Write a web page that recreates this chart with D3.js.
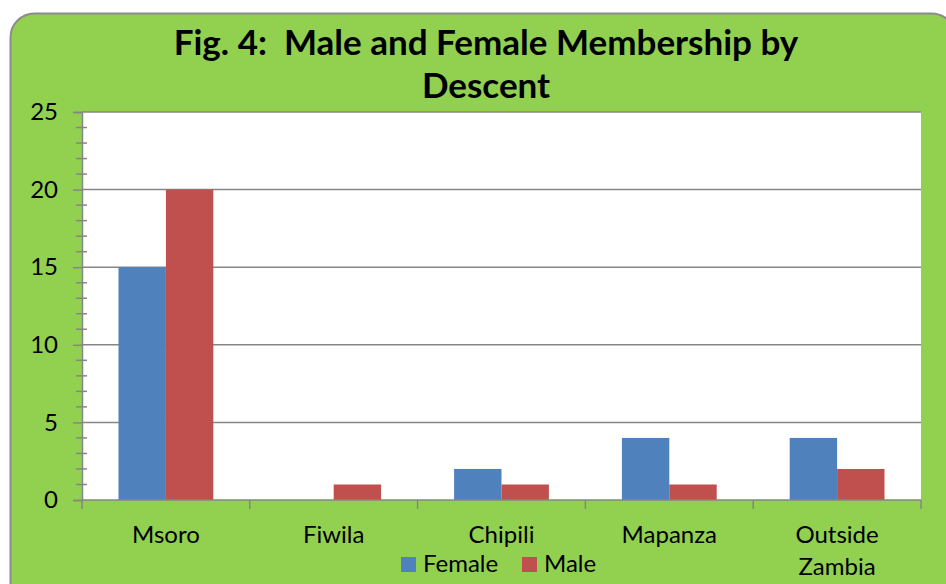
<!DOCTYPE html>
<html>
<head>
<meta charset="utf-8">
<script src="https://d3js.org/d3.v7.min.js"></script>
<style>
  body { margin: 0; background: #fff; }
  text { font-family: Lato, "Open Sans", sans-serif; fill: #000; }
</style>
</head>
<body>
<div id="chart"></div>
<script>
const categories = ["Msoro", "Fiwila", "Chipili", "Mapanza", "Outside Zambia"];
const seriesNames = ["Female", "Male"];
const female = [15, 0, 2, 4, 4];
const male = [20, 1, 1, 1, 2];
const yTicks = [0, 5, 10, 15, 20, 25];
const colors = { Female: "#4f81bd", Male: "#c0504d" };

const width = 946, height = 584;
const plot = { left: 82, right: 921, top: 112, bottom: 500 };

const svg = d3.select("#chart").append("svg")
  .attr("width", width)
  .attr("height", height);

// green chart area with rounded corners
svg.append("rect")
  .attr("x", 10.5).attr("y", 13.5)
  .attr("width", 945).attr("height", 600)
  .attr("rx", 24).attr("ry", 24)
  .attr("fill", "#92d050")
  .attr("stroke", "#8c8c8c")
  .attr("stroke-width", 2);

// plot area
svg.append("rect")
  .attr("x", plot.left).attr("y", plot.top)
  .attr("width", plot.right - plot.left).attr("height", plot.bottom - plot.top)
  .attr("fill", "#fff");

const x0 = d3.scaleBand().domain(categories).range([plot.left, plot.right]);
const x1 = d3.scaleBand().domain(seriesNames)
  .range([0, x0.bandwidth()])
  .paddingInner(0).paddingOuter(0.77);
const y = d3.scaleLinear().domain([0, 25]).range([plot.bottom, plot.top]);

// gridlines
svg.append("g").selectAll("line")
  .data(yTicks.filter(d => d > 0))
  .enter().append("line")
  .attr("x1", plot.left).attr("x2", plot.right)
  .attr("y1", d => y(d)).attr("y2", d => y(d))
  .attr("stroke", "#868686").attr("stroke-width", 1.5);

// bars
const rows = categories.map((c, i) => ({ category: c, Female: female[i], Male: male[i] }));
svg.append("g").selectAll("g")
  .data(rows)
  .enter().append("g")
  .attr("transform", d => "translate(" + x0(d.category) + ",0)")
  .selectAll("rect")
  .data(d => seriesNames.map(s => ({ key: s, value: d[s] })))
  .enter().append("rect")
  .attr("x", d => x1(d.key))
  .attr("width", x1.bandwidth())
  .attr("y", d => y(d.value))
  .attr("height", d => y(0) - y(d.value))
  .attr("fill", d => colors[d.key]);

// y axis with minor ticks
const yAxis = svg.append("g")
  .attr("transform", "translate(" + plot.left + ",0)")
  .call(d3.axisLeft(y).tickValues(yTicks).tickSize(9).tickPadding(15).tickFormat(d3.format("d")));
yAxis.select(".domain").attr("stroke", "#868686").attr("stroke-width", 1.5);
yAxis.selectAll(".tick line").attr("stroke", "#868686").attr("stroke-width", 1.5);
yAxis.selectAll(".tick text").style("font-size", "24px").style("font-family", "Lato, sans-serif");

svg.append("g").selectAll("line")
  .data(d3.range(0, 26).filter(d => d % 5 !== 0))
  .enter().append("line")
  .attr("x1", plot.left - 6).attr("x2", plot.left + 5)
  .attr("y1", d => y(d)).attr("y2", d => y(d))
  .attr("stroke", "#868686").attr("stroke-width", 1.5);

// x axis
svg.append("line")
  .attr("x1", plot.left).attr("x2", plot.right)
  .attr("y1", plot.bottom).attr("y2", plot.bottom)
  .attr("stroke", "#868686").attr("stroke-width", 1.5);
const bounds = categories.map(c => x0(c)).concat([plot.right]);
svg.append("g").selectAll("line")
  .data(bounds)
  .enter().append("line")
  .attr("x1", d => d).attr("x2", d => d)
  .attr("y1", plot.bottom).attr("y2", plot.bottom + 9)
  .attr("stroke", "#868686").attr("stroke-width", 1.5);

const xLabels = svg.append("g").selectAll("text")
  .data(categories)
  .enter().append("text")
  .attr("x", d => x0(d) + x0.bandwidth() / 2)
  .attr("y", 543)
  .attr("text-anchor", "middle")
  .style("font-size", "24px");
xLabels.each(function (d) {
  const words = d === "Outside Zambia" ? ["Outside", "Zambia"] : [d];
  const t = d3.select(this);
  words.forEach((w, i) => {
    t.append("tspan")
      .attr("x", x0(d) + x0.bandwidth() / 2)
      .attr("dy", i === 0 ? 0 : 32)
      .text(w);
  });
});

// title
const title = svg.append("text")
  .attr("x", 486).attr("y", 55)
  .attr("text-anchor", "middle")
  .style("font-size", "35px").style("font-weight", "bold");
title.append("tspan").attr("x", 486).attr("dy", 0).text("Fig. 4:\u00a0 Male and Female Membership by");
title.append("tspan").attr("x", 486).attr("dy", 43).text("Descent");

// legend
const legend = svg.append("g");
const legendPos = [{ key: "Female", x: 401 }, { key: "Male", x: 522 }];
legendPos.forEach(l => {
  legend.append("rect")
    .attr("x", l.x).attr("y", 557)
    .attr("width", 15).attr("height", 15)
    .attr("fill", colors[l.key]);
  legend.append("text")
    .attr("x", l.x + 22).attr("y", 572)
    .style("font-size", "24px")
    .text(l.key);
});
</script>
</body>
</html>
